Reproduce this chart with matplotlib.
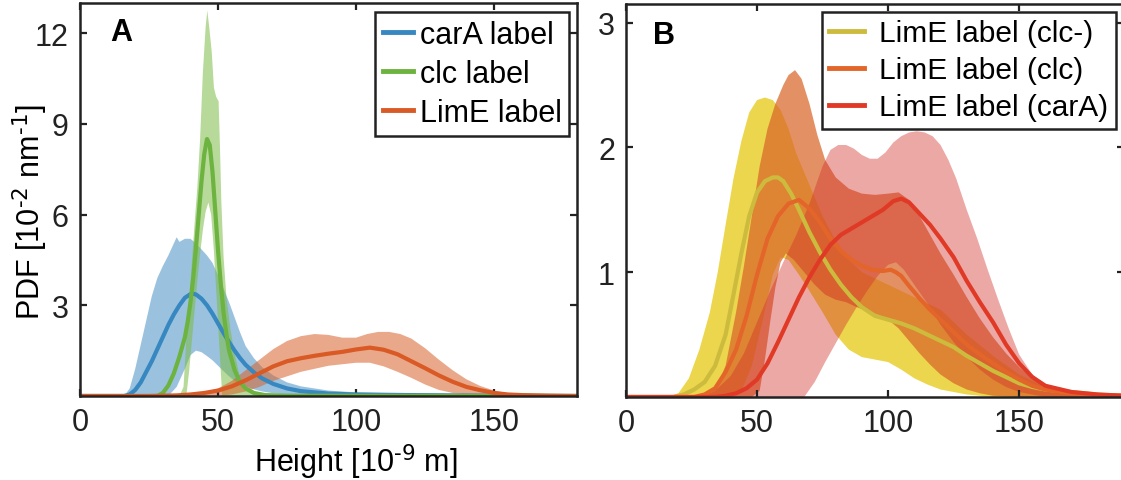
import matplotlib
matplotlib.use("Agg")
import matplotlib.pyplot as plt

plt.rcParams['font.family'] = ['Liberation Sans', 'DejaVu Sans']
plt.rcParams['mathtext.default'] = 'regular'

# -----------------------------------------------------------------------------
# Panel A: PDF de alturas (10^-2 nm^-1) para cada marcador

cara_media_x = [0, 16, 18, 20, 22, 24, 26, 28, 30, 32, 34, 36, 38, 40, 41, 42, 44, 46, 48, 50,
                52, 54, 56, 58, 60, 63, 66, 70, 75, 80, 90, 100, 120, 150, 180]
cara_media_y = [0, 0, 0.05, 0.2, 0.45, 0.8, 1.15, 1.55, 1.95, 2.35, 2.7, 3.0, 3.25, 3.37, 3.38, 3.36,
                3.22, 3.0, 2.72, 2.4, 2.08, 1.78, 1.5, 1.25, 1.03, 0.78, 0.58, 0.4, 0.25, 0.16,
                0.08, 0.05, 0.03, 0.01, 0]
cara_sup_x = [0, 16, 18, 20, 22, 24, 26, 28, 30, 32, 34, 35, 36, 37, 38, 40, 42, 44, 46, 48, 50,
              52, 54, 56, 58, 60, 63, 66, 70, 75, 80, 90, 100, 120, 150, 180]
cara_sup_y = [0, 0, 0.25, 0.9, 1.7, 2.5, 3.3, 3.9, 4.3, 4.65, 5.05, 5.25, 5.1, 5.15, 5.2, 5.2,
              5.05, 4.85, 4.65, 4.4, 4.0, 3.55, 3.1, 2.6, 2.1, 1.65, 1.25, 0.95, 0.68, 0.45,
              0.32, 0.18, 0.12, 0.08, 0.05, 0.03]
cara_inf_x = [0, 32, 35, 38, 40, 42, 44, 46, 48, 50, 52, 54, 56, 58, 60, 63, 66, 70, 75, 80, 90,
              100, 120, 150, 180]
cara_inf_y = [0, 0, 0.3, 0.9, 1.35, 1.5, 1.45, 1.32, 1.18, 1.0, 0.82, 0.65, 0.5, 0.4, 0.32, 0.22,
              0.15, 0.09, 0.05, 0.03, 0.02, 0.01, 0.01, 0, 0]

clc_media_x = [0, 28, 30, 32, 34, 36, 38, 39, 40, 41, 42, 43, 44, 45, 46, 47, 48, 49, 50, 51, 52,
               53, 54, 56, 58, 60, 63, 67, 75, 180]
clc_media_y = [0, 0, 0.1, 0.35, 0.75, 1.3, 1.95, 2.45, 3.1, 3.9, 4.9, 6.0, 7.1, 8.0, 8.5, 8.3,
               7.4, 6.1, 4.8, 3.7, 2.75, 2.05, 1.5, 0.85, 0.45, 0.25, 0.1, 0.03, 0.01, 0]
clc_sup_x = [0, 36, 37.5, 38.5, 39.5, 40.5, 41.5, 42.5, 43.5, 44.5, 45.5, 46.1, 46.8, 47.7, 48.5,
             49.3, 50.2, 50.7, 51.2, 52, 53, 54.5, 56, 58, 60, 63, 180]
clc_sup_y = [0, 0, 0.3, 1.9, 3.1, 4.4, 5.7, 6.9, 8.5, 10.7, 12.2, 12.75, 12.2, 11.4, 10.2, 9.9,
             9.75, 8.2, 6.4, 4.6, 3.3, 2.2, 1.4, 0.6, 0.25, 0.07, 0]
clc_inf_x = [0, 38.5, 39.5, 40.5, 41.5, 42.5, 43.5, 44.5, 45.5, 46.5, 47.5, 48.5, 49.5, 50.5,
             51.5, 180]
clc_inf_y = [0, 0, 0.8, 1.8, 2.8, 3.8, 4.7, 5.5, 6.1, 6.4, 6.0, 4.8, 3.2, 1.6, 0, 0]

lime_media_x = [0, 25, 30, 35, 40, 45, 50, 55, 60, 65, 70, 75, 80, 85, 90, 95, 100, 105, 110,
                115, 120, 125, 130, 135, 140, 145, 150, 155, 160, 170, 180]
lime_media_y = [0, 0, 0.01, 0.02, 0.05, 0.1, 0.18, 0.32, 0.52, 0.75, 0.98, 1.15, 1.25, 1.33,
                1.4, 1.46, 1.54, 1.6, 1.53, 1.38, 1.15, 0.92, 0.68, 0.47, 0.3, 0.19, 0.1, 0.05,
                0.03, 0.01, 0]
lime_sup_x = [0, 30, 40, 45, 50, 55, 60, 65, 70, 75, 80, 85, 90, 95, 100, 104, 108, 112, 116,
              120, 125, 130, 135, 140, 145, 150, 155, 160, 170, 180]
lime_sup_y = [0, 0.01, 0.05, 0.12, 0.25, 0.5, 0.85, 1.2, 1.55, 1.82, 1.98, 2.05, 2.02, 1.93,
              1.93, 2.05, 2.12, 2.12, 2.05, 1.9, 1.58, 1.2, 0.85, 0.55, 0.33, 0.18, 0.09, 0.04,
              0.01, 0]
lime_inf_x = [0, 50, 55, 60, 65, 70, 75, 80, 85, 90, 95, 100, 105, 110, 115, 120, 125, 130, 135,
              140, 150, 180]
lime_inf_y = [0, 0, 0.05, 0.15, 0.3, 0.5, 0.65, 0.8, 0.9, 1.0, 1.05, 1.1, 1.1, 0.98, 0.8, 0.6,
              0.38, 0.2, 0.1, 0.05, 0.01, 0]

# -----------------------------------------------------------------------------
# Panel B: LimE en los tres fondos (clc-, clc, carA)

menos_media_x = [0, 18, 22, 26, 30, 34, 38, 41, 44, 47, 50, 53, 56, 58, 60, 63, 66, 70, 74, 78,
                 82, 86, 90, 95, 100, 105, 110, 115, 120, 125, 130, 135, 140, 145, 150, 155,
                 160, 170, 180, 190]
menos_media_y = [0, 0, 0.02, 0.06, 0.12, 0.25, 0.5, 0.82, 1.15, 1.45, 1.64, 1.73, 1.76, 1.76,
                 1.73, 1.63, 1.5, 1.32, 1.16, 1.02, 0.9, 0.8, 0.72, 0.65, 0.62, 0.59, 0.55,
                 0.5, 0.45, 0.4, 0.33, 0.27, 0.21, 0.16, 0.11, 0.08, 0.06, 0.04, 0.02, 0.01]
menos_sup_x = [0, 16, 20, 24, 28, 32, 35, 38, 41, 44, 47, 50, 53, 56, 59, 62, 65, 70, 75, 80,
               85, 90, 95, 100, 110, 120, 130, 140, 150, 160, 170, 180, 190]
menos_sup_y = [0, 0, 0.03, 0.15, 0.38, 0.68, 1.0, 1.38, 1.75, 2.05, 2.28, 2.38, 2.4, 2.38, 2.3,
               2.15, 1.95, 1.7, 1.45, 1.25, 1.1, 1.0, 0.95, 0.9, 0.8, 0.7, 0.5, 0.33, 0.18,
               0.08, 0.04, 0.02, 0.01]
menos_inf_x = [0, 40, 44, 48, 52, 56, 59, 62, 66, 70, 75, 80, 85, 90, 95, 100, 105, 110, 115,
               120, 130, 140, 190]
menos_inf_y = [0, 0, 0.05, 0.25, 0.6, 0.98, 1.12, 1.1, 0.98, 0.85, 0.68, 0.5, 0.38, 0.32, 0.3,
               0.28, 0.22, 0.15, 0.1, 0.06, 0.02, 0, 0]

conclc_media_x = [0, 26, 30, 34, 38, 42, 46, 50, 54, 58, 62, 66, 70, 74, 78, 82, 86, 90, 94, 98,
                  101, 103, 105, 108, 112, 116, 120, 125, 130, 135, 140, 145, 150, 155, 160,
                  170, 180, 190]
conclc_media_y = [0, 0, 0.02, 0.07, 0.2, 0.38, 0.65, 0.98, 1.27, 1.45, 1.55, 1.58, 1.51, 1.4,
                  1.27, 1.17, 1.1, 1.05, 1.02, 1.01, 1.02, 1.0, 0.97, 0.89, 0.79, 0.7, 0.62,
                  0.52, 0.42, 0.34, 0.27, 0.2, 0.14, 0.09, 0.06, 0.03, 0.015, 0.01]
conclc_sup_x = [0, 26, 30, 34, 38, 42, 45, 48, 51, 54, 57, 60, 62, 64.5, 67, 70, 73, 76, 80, 85,
                90, 95, 100, 104, 108, 112, 116, 120, 125, 130, 135, 140, 145, 150, 155, 160,
                170, 180, 190]
conclc_sup_y = [0, 0, 0.01, 0.05, 0.25, 0.68, 1.05, 1.45, 1.85, 2.15, 2.35, 2.5, 2.58, 2.62,
                2.55, 2.35, 2.1, 1.9, 1.76, 1.67, 1.63, 1.62, 1.63, 1.64, 1.58, 1.45, 1.3,
                1.15, 0.98, 0.8, 0.63, 0.48, 0.35, 0.24, 0.15, 0.09, 0.04, 0.02, 0.01]
conclc_inf_x = [0, 48, 51, 53, 55, 57, 59, 61, 64, 68, 72, 76, 80, 84, 88, 92, 96, 100, 104,
                108, 112, 116, 120, 125, 130, 135, 140, 150, 190]
conclc_inf_y = [0, 0, 0.05, 0.3, 0.6, 0.88, 1.08, 1.15, 1.1, 1.0, 0.9, 0.82, 0.78, 0.76, 0.72,
                0.69, 0.66, 0.62, 0.55, 0.45, 0.35, 0.26, 0.18, 0.11, 0.06, 0.03, 0.01, 0, 0]

cara_b_media_x = [0, 34, 38, 42, 46, 50, 54, 58, 62, 66, 70, 74, 78, 82, 86, 90, 94, 98, 102,
                  105, 108, 112, 116, 120, 125, 130, 135, 140, 145, 150, 155, 160, 170, 180, 190]
cara_b_media_y = [0, 0, 0.01, 0.03, 0.07, 0.14, 0.27, 0.44, 0.62, 0.8, 0.96, 1.1, 1.22, 1.3,
                  1.35, 1.4, 1.45, 1.5, 1.57, 1.59, 1.56, 1.47, 1.38, 1.27, 1.12, 0.93, 0.76,
                  0.6, 0.42, 0.27, 0.16, 0.09, 0.04, 0.02, 0.01]
cara_b_sup_x = [0, 26, 30, 35, 40, 45, 50, 55, 60, 65, 70, 75, 78, 81, 84, 87, 90, 93, 96, 99,
                102, 105, 108, 111, 114, 117, 120, 123, 126, 130, 134, 138, 142, 146, 150, 155,
                160, 165, 170, 180, 190]
cara_b_sup_y = [0, 0, 0.02, 0.07, 0.17, 0.35, 0.6, 0.85, 1.08, 1.3, 1.55, 1.85, 1.98, 2.02,
                2.02, 1.99, 1.94, 1.91, 1.91, 1.96, 2.04, 2.09, 2.12, 2.13, 2.12, 2.09, 2.02,
                1.9, 1.75, 1.5, 1.27, 1.02, 0.78, 0.55, 0.34, 0.18, 0.1, 0.06, 0.04, 0.02, 0.01]
cara_b_inf_x = [0, 68, 72, 76, 80, 84, 88, 92, 96, 100, 103, 106, 110, 115, 120, 125, 130, 135,
                140, 145, 150, 160, 190]
cara_b_inf_y = [0, 0, 0.12, 0.28, 0.43, 0.58, 0.72, 0.85, 0.97, 1.06, 1.08, 1.02, 0.9, 0.75,
                0.58, 0.44, 0.32, 0.22, 0.14, 0.08, 0.04, 0, 0]


def banda(ax, xs, ys, xi, yi, color, alpha):
    "Dibuja la banda de confianza como un poligono cerrado"
    px = list(xs) + list(xi)[::-1]
    py = list(ys) + list(yi)[::-1]
    ax.fill(px, py, color=color, alpha=alpha, lw=0)


def estilo_ejes(ax):
    "Caja negra con ticks hacia adentro en los cuatro lados"
    for sp in ax.spines.values():
        sp.set_linewidth(1.8)
        sp.set_color('#222222')
    ax.tick_params(direction='in', length=5, width=1.6, top=True, right=True,
                   labelsize=22, pad=8, colors='#222222')


def leyenda(ax, anchor, fs, hl, htp):
    "Leyenda con marco negro recto"
    leg = ax.legend(loc='upper right', bbox_to_anchor=anchor, borderaxespad=0,
                    fontsize=fs, handlelength=hl, handletextpad=htp, labelspacing=0.3,
                    borderpad=0.25, fancybox=False, framealpha=1, edgecolor='#222222')
    leg.get_frame().set_linewidth(1.8)
    for linea in leg.get_lines():
        linea.set_linewidth(3.5)
    return leg


fig = plt.figure(figsize=(11.21, 4.81), dpi=100)
W, H = 1121, 481

# Panel A
ax1 = fig.add_axes([80 / W, 1 - 397 / H, 497 / W, 393 / H])
banda(ax1, cara_sup_x, cara_sup_y, cara_inf_x, cara_inf_y, '#3787C0', 0.5)
banda(ax1, clc_sup_x, clc_sup_y, clc_inf_x, clc_inf_y, '#7CBB46', 0.55)
banda(ax1, lime_sup_x, lime_sup_y, lime_inf_x, lime_inf_y, '#D9622A', 0.55)
ax1.plot(cara_media_x, cara_media_y, color='#3787C0', lw=3, label='carA label')
ax1.plot(clc_media_x, clc_media_y, color='#6DB33F', lw=3, label='clc label')
ax1.plot(lime_media_x, lime_media_y, color='#D95A25', lw=3, label='LimE label')
ax1.set_xlim(0, 180)
ax1.set_ylim(0, 13)
ax1.set_xticks([0, 50, 100, 150])
ax1.set_yticks([3, 6, 9, 12])
estilo_ejes(ax1)
ax1.set_ylabel(r'PDF [10$^{\text{-2}}$ nm$^{\text{-1}}$]', fontsize=22)
ax1.yaxis.set_label_coords(-0.06, 0.47)
ax1.set_xlabel(r'Height [10$^{\text{-9}}$ m]', fontsize=22)
ax1.xaxis.set_label_coords(0.555, -0.115)
ax1.text(0.06, 0.965, 'A', transform=ax1.transAxes, fontsize=22, fontweight='bold',
         va='top', ha='left')
leyenda(ax1, (0.984, 0.977), 22, 1.0, 0.2)

# Panel B
ax2 = fig.add_axes([626 / W, 1 - 398 / H, 498 / W, 393 / H])
banda(ax2, menos_sup_x, menos_sup_y, menos_inf_x, menos_inf_y, '#E8CF2E', 0.85)
banda(ax2, conclc_sup_x, conclc_sup_y, conclc_inf_x, conclc_inf_y, '#D9662A', 0.72)
banda(ax2, cara_b_sup_x, cara_b_sup_y, cara_b_inf_x, cara_b_inf_y, '#D2302A', 0.42)
ax2.plot(menos_media_x, menos_media_y, color='#CDBB3E', lw=3, label='LimE label (clc-)')
ax2.plot(conclc_media_x, conclc_media_y, color='#E4652A', lw=3, label='LimE label (clc)')
ax2.plot(cara_b_media_x, cara_b_media_y, color='#E03A26', lw=3, label='LimE label (carA)')
ax2.set_xlim(0, 190)
ax2.set_ylim(0, 3.15)
ax2.set_xticks([0, 50, 100, 150])
ax2.set_yticks([1, 2, 3])
estilo_ejes(ax2)
ax2.text(0.055, 0.96, 'B', transform=ax2.transAxes, fontsize=22, fontweight='bold',
         va='top', ha='left')
leyenda(ax2, (0.984, 0.98), 21.5, 1.15, 0.53)

fig.savefig('out.png', dpi=100)
